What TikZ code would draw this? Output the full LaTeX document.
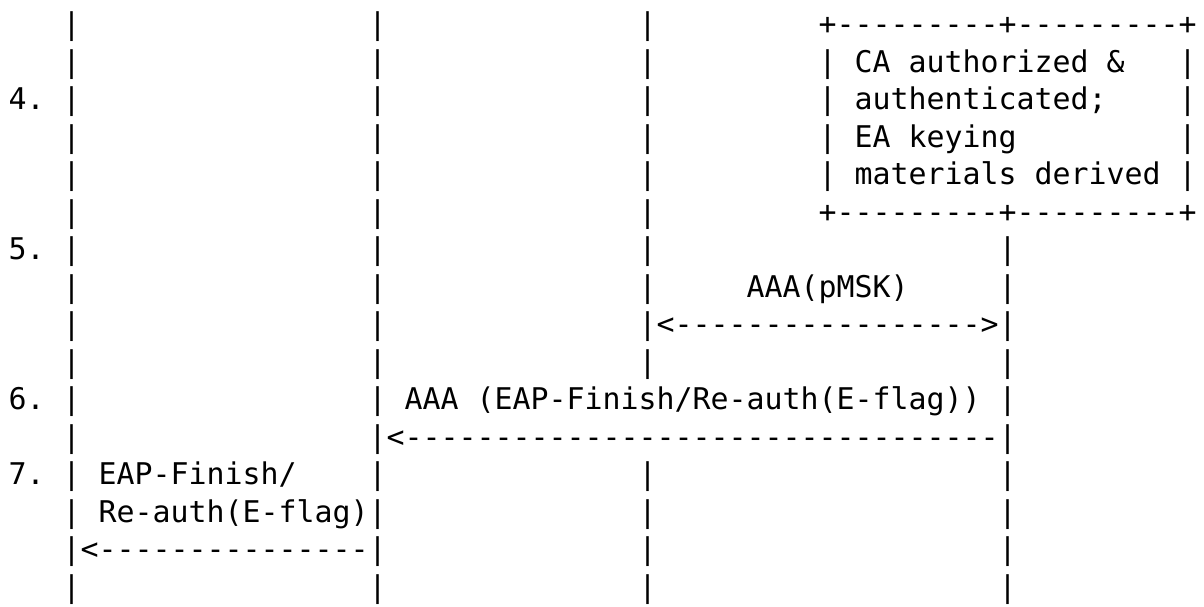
\documentclass[tikz,border=0pt]{standalone}
\usepackage{fontspec}
\setmonofont{DejaVu Sans Mono}
\begin{document}
\begin{tikzpicture}[x=1pt,y=-1pt,
  ch/.style={anchor=base west,inner sep=0pt,outer sep=0pt,
    font=\ttfamily\fontsize{29.9}{36}\selectfont,text=black}]
\useasboundingbox[fill=white] (0,0) rectangle (1204,607);
% character grid: column c, row r
\def\cx#1{8.7+18*#1}
\def\ry#1{34.9+37.5*#1}
% lifelines drawn as bar characters
\foreach \r in {0,...,15} {
  \node[ch] (pA\r) at ({\cx{3}},{\ry{\r}}) {|};
  \node[ch] (pB\r) at ({\cx{20}},{\ry{\r}}) {|};
}
\foreach \r in {0,...,9,12,13,14,15}
  \node[ch] (pC\r) at ({\cx{35}},{\ry{\r}}) {|};
\foreach \r in {6,...,15}
  \node[ch] (pD\r) at ({\cx{55}},{\ry{\r}}) {|};
% step numbers
\node[ch] (n4) at ({\cx{0}},{\ry{2}}) {4.};
\node[ch] (n5) at ({\cx{0}},{\ry{6}}) {5.};
\node[ch] (n6) at ({\cx{0}},{\ry{10}}) {6.};
\node[ch] (n7) at ({\cx{0}},{\ry{12}}) {7.};
% box on the right
\node[ch] (boxtop) at ({\cx{45}},{\ry{0}}) {+---------+---------+};
\node[ch] (boxbot) at ({\cx{45}},{\ry{5}}) {+---------+---------+};
\foreach \r in {1,...,4} {
  \node[ch] (bl\r) at ({\cx{45}},{\ry{\r}}) {|};
  \node[ch] (br\r) at ({\cx{65}},{\ry{\r}}) {|};
}
\node[ch] (t1) at ({\cx{47}},{\ry{1}}) {CA authorized \&};
\node[ch] (t2) at ({\cx{47}},{\ry{2}}) {authenticated;};
\node[ch] (t3) at ({\cx{47}},{\ry{3}}) {EA keying};
\node[ch] (t4) at ({\cx{47}},{\ry{4}}) {materials derived};
% message 5
\node[ch] (m5) at ({\cx{41}},{\ry{7}}) {AAA(pMSK)};
\node[ch] (a5) at ({\cx{36}},{\ry{8}}) {<----------------->};
% message 6
\node[ch] (m6) at ({\cx{22}},{\ry{10}}) {AAA (EAP-Finish/Re-auth(E-flag))};
\node[ch] (a6) at ({\cx{21}},{\ry{11}}) {<---------------------------------};
% message 7
\node[ch] (m7a) at ({\cx{5}},{\ry{12}}) {EAP-Finish/};
\node[ch] (m7b) at ({\cx{5}},{\ry{13}}) {Re-auth(E-flag)};
\node[ch] (a7) at ({\cx{4}},{\ry{14}}) {<---------------};
\end{tikzpicture}
\end{document}
